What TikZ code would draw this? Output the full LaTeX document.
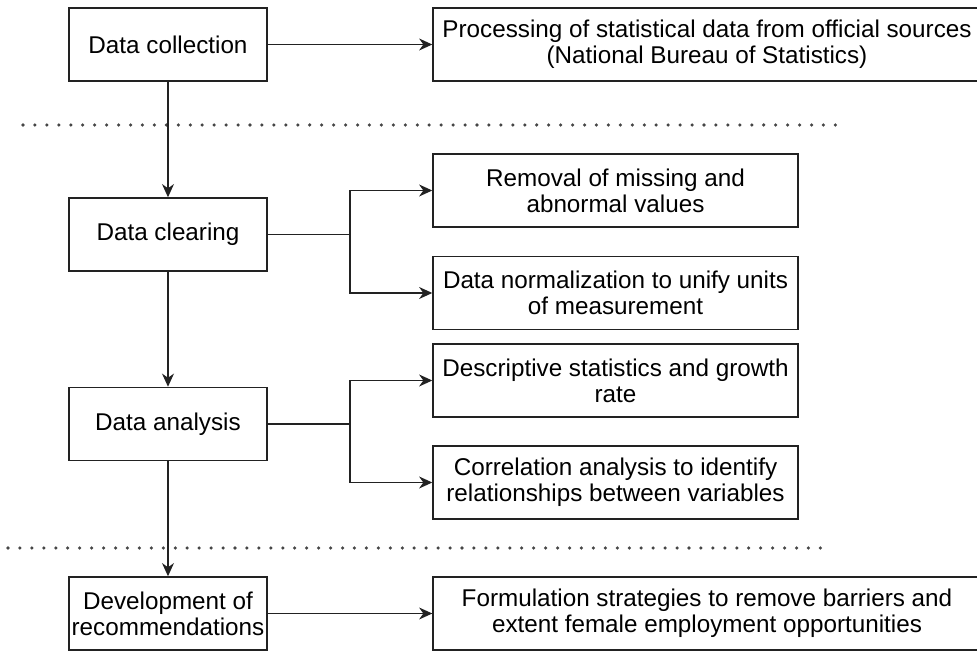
\documentclass[tikz,border=0pt]{standalone}
\usepackage{fontspec}
\setmainfont{Liberation Sans}
\definecolor{flowline}{RGB}{34,34,34}
\definecolor{flowdots}{RGB}{70,70,70}
\usetikzlibrary{arrows.meta,positioning}

\begin{document}
\begin{tikzpicture}[
  x=0.02cm, y=-0.02cm,
  >={Stealth[length=7.5pt,width=6.8pt,inset=2.4pt]},
  every node/.style={font=\fontsize{13.8}{14.9}\selectfont},
  stage/.style={draw=flowline, line width=0.85pt, minimum width=3.96cm, minimum height=1.46cm, inner xsep=1pt, align=center},
  task/.style={stage, minimum width=7.3cm},
  widetask/.style={stage, minimum width=10.96cm},
  link/.style={->, draw=flowline, line width=0.8pt},
  divider/.style={draw=flowdots, line width=2pt, line cap=round, dash pattern=on 0pt off 6.8pt}
]
\useasboundingbox (0,0) rectangle (977,651);

% phase dividers
\draw[divider] (23,125) -- (839,125);
\draw[divider] (8,548) -- (823,548);

\node[stage] (collect) at (168,44.5) {Data collection};
\node[widetask] (official) at (707,44.5) {Processing of statistical data from official sources\\(National Bureau of Statistics)};

\node[stage] (clear) at (168,234.5) {Data clearing};
\node[task] (missing) at (615.5,190.5) {Removal of missing and\\abnormal values};
\node[task] (units) at (615.5,293) {Data normalization to unify units\\of measurement};

\node[stage] (analysis) at (168,424) {Data analysis};
\node[task] (growth) at (615.5,380.5) {Descriptive statistics and growth\\rate};
\node[task] (correl) at (615.5,482.5) {Correlation analysis to identify\\relationships between variables};

\node[stage] (recomm) at (168,613.5) {Development of\\recommendations};
\node[widetask] (strategy) at (707,613.5) {Formulation strategies to remove barriers and\\extent female employment opportunities};

\coordinate (fork1) at (350,234.5);
\coordinate (fork2) at (350,424);

\draw[link] (collect) -- (official);
\draw[link] (collect) -- (clear);
\draw[link] (clear) -- (analysis);
\draw[link] (analysis) -- (recomm);
\draw[link] (recomm) -- (strategy);

\draw[link] (clear.east) -- (fork1) |- (missing.west);
\draw[link] (fork1) |- (units.west);
\draw[link] (analysis.east) -- (fork2) |- (growth.west);
\draw[link] (fork2) |- (correl.west);
\end{tikzpicture}
\end{document}
